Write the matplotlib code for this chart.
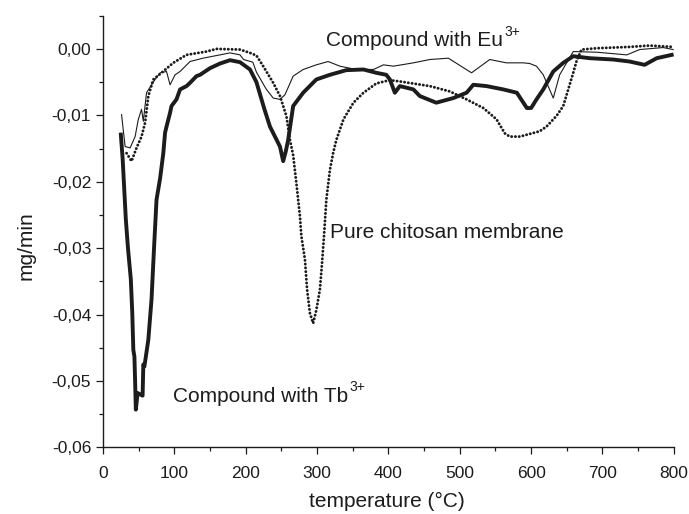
import matplotlib
matplotlib.use("Agg")
import matplotlib.pyplot as plt
from matplotlib.ticker import MultipleLocator, FuncFormatter

plt.rcParams['font.family'] = ['Liberation Sans', 'DejaVu Sans']

# Compound with Tb3+ (thick line)
tb_T = [25, 27.5, 32, 35, 39, 41, 42.5, 44, 45, 46, 48.5, 55.5, 56.5, 58, 63.5, 68, 71.5,
        75, 80, 84.5, 87, 89, 94, 96, 103, 108, 117, 122, 131, 136, 150, 164, 178, 192,
        206, 215, 226, 234, 248, 252.5, 256, 259.5, 266.5, 280.5, 299, 318, 341, 365,
        383, 397, 402, 409, 416, 435, 444, 467, 491, 509.5, 519, 537.5, 561, 580, 594,
        600, 607.5, 617, 631, 645, 659, 682, 715, 738, 759, 776, 797]
tb_v = [-0.0129, -0.0165, -0.0257, -0.0300, -0.0347, -0.0397, -0.0453, -0.0463, -0.0500,
        -0.0543, -0.0518, -0.0522, -0.0475, -0.0478, -0.0438, -0.0377, -0.0300,
        -0.0227, -0.0195, -0.0157, -0.0126, -0.0117, -0.0096, -0.0086, -0.0076, -0.0061,
        -0.0056, -0.0051, -0.0041, -0.0039, -0.0029, -0.0022, -0.0017, -0.0020,
        -0.0031, -0.0050, -0.0090, -0.0117, -0.0147, -0.0169, -0.0155, -0.0137, -0.0086,
        -0.0066, -0.0046, -0.0039, -0.0032, -0.0031,
        -0.0036, -0.0039, -0.0046, -0.0066, -0.0056, -0.0061, -0.0071, -0.0081, -0.0074,
        -0.0066, -0.0054, -0.0056, -0.0061, -0.0066, -0.0089,
        -0.0089, -0.0076, -0.0061, -0.0034, -0.0021, -0.0011, -0.0014, -0.0016, -0.0019,
        -0.0024, -0.0014, -0.0009]

# Compound with Eu3+ (thin line)
eu_T = [26, 31, 38, 45, 49.5, 54, 56.5, 61, 73, 80, 89, 94, 101, 108, 122, 140, 164, 178,
        192, 197, 210, 215, 229, 238.5, 248, 255, 266.5, 280.5, 299, 315.5, 332, 355,
        379, 393, 407, 435, 458, 484, 516.5, 542, 565.5, 589, 598, 607.5, 617, 631, 640,
        659, 692, 734, 752, 785, 799]
eu_v = [-0.0099, -0.0147, -0.0149, -0.0132, -0.0106, -0.0091, -0.0109, -0.0066, -0.0046,
        -0.0036, -0.0034, -0.0054, -0.0039, -0.0034, -0.0019, -0.0014, -0.0009, -0.0006,
        -0.0009, -0.0016, -0.0020, -0.0035, -0.0061, -0.0074, -0.0076, -0.0069, -0.0041,
        -0.0031, -0.0024, -0.0019, -0.0026, -0.0031,
        -0.0031, -0.0024, -0.0026, -0.0021, -0.0016, -0.0014, -0.0036, -0.0016, -0.0021,
        -0.0021, -0.0022, -0.0026, -0.0039, -0.0074, -0.0039,
        -0.0004, -0.0005, -0.0009, -0.0001, 0.0002, -0.0001]

# Pure chitosan membrane (dotted line)
ch_T = [33, 40, 47, 54, 59, 63.5, 70.5, 82, 98.5, 117, 145, 159, 192, 206, 215, 224.5,
        238.5, 248, 257, 262, 266.5, 271, 276, 278, 283, 286, 290, 294.5, 299, 304, 307,
        310, 313, 318, 322.5, 327, 337, 351, 365, 383, 402, 416, 458, 486, 509.5, 533,
        551.5, 563, 570, 584, 598, 612, 621.5, 635.5, 645, 652, 659, 663.5, 670.5, 692,
        738, 766, 799]
ch_v = [-0.0157, -0.0169, -0.0149, -0.0132, -0.0111, -0.0071, -0.0046, -0.0036, -0.0021,
        -0.0009, -0.0004, 0.0000, -0.0001, -0.0006, -0.0010, -0.0026,
        -0.0051, -0.0071, -0.0101, -0.0137, -0.0160, -0.0202, -0.0252, -0.0282, -0.0317,
        -0.0362, -0.0398, -0.0413, -0.0393, -0.0362, -0.0322,
        -0.0277, -0.0227, -0.0182, -0.0157, -0.0137, -0.0106, -0.0081, -0.0066, -0.0052,
        -0.0047, -0.0049, -0.0056, -0.0064, -0.0076, -0.0089,
        -0.0106, -0.0127, -0.0132, -0.0132, -0.0128, -0.0124, -0.0117, -0.0101, -0.0086,
        -0.0061, -0.0036, -0.0019, -0.0001, 0.0001,
        0.0003, 0.0005, 0.0003]

x_ticks = [0, 100, 200, 300, 400, 500, 600, 700, 800]
y_ticks = [0.00, -0.01, -0.02, -0.03, -0.04, -0.05, -0.06]

ink = '#1c1c1c'

fig = plt.figure(figsize=(6.89, 5.14), dpi=100)
ax = fig.add_axes([0.1495, 0.1294, 0.8285, 0.8401])

ax.plot(ch_T, ch_v, color=ink, lw=2.1, linestyle=(0, (0.05, 1.25)),
        dash_capstyle='round', solid_capstyle='round')
ax.plot(eu_T, eu_v, color=ink, lw=0.8)
ax.plot(tb_T, tb_v, color=ink, lw=2.8, solid_joinstyle='round')

ax.set_xlim(0, 800)
ax.set_ylim(-0.06, 0.005)
ax.set_xticks(x_ticks)
ax.set_yticks(y_ticks)
ax.xaxis.set_minor_locator(MultipleLocator(50))
ax.yaxis.set_minor_locator(MultipleLocator(0.005))
ax.yaxis.set_major_formatter(FuncFormatter(lambda v, p: ('%.2f' % v).replace('.', ',').replace('-0,00', '0,00')))

for s in ['top', 'right']:
    ax.spines[s].set_visible(False)
for s in ['left', 'bottom']:
    ax.spines[s].set_linewidth(1.0)
    ax.spines[s].set_color(ink)

ax.tick_params(which='major', direction='out', length=5, width=0.9, colors=ink,
               labelsize=12.5, labelcolor=ink)
ax.tick_params(which='minor', direction='out', length=2.6, width=0.9, colors=ink)
ax.tick_params(axis='x', which='major', pad=8.5)
ax.tick_params(axis='y', which='major', pad=3.5)

ax.set_xlabel('temperature (°C)', fontsize=15, color=ink)
ax.set_ylabel('mg/min', fontsize=15, color=ink)
ax.xaxis.set_label_coords(0.497, -0.104)
ax.yaxis.set_label_coords(-0.119, 0.467)


def label_with_sup(x, y, main, sup):
    t = ax.text(x, y, main, fontsize=15, color=ink, ha='left', va='center')
    ax.annotate(sup, xy=(1, 0.62), xycoords=t, xytext=(1, 0), textcoords='offset points',
                fontsize=10, color=ink, ha='left', va='bottom')


label_with_sup(313, 0.0012, 'Compound with Eu', '3+')
ax.text(318, -0.0277, 'Pure chitosan membrane', fontsize=15, color=ink,
        ha='left', va='center')
label_with_sup(98, -0.0523, 'Compound with Tb', '3+')

fig.savefig('out.png', dpi=100)
